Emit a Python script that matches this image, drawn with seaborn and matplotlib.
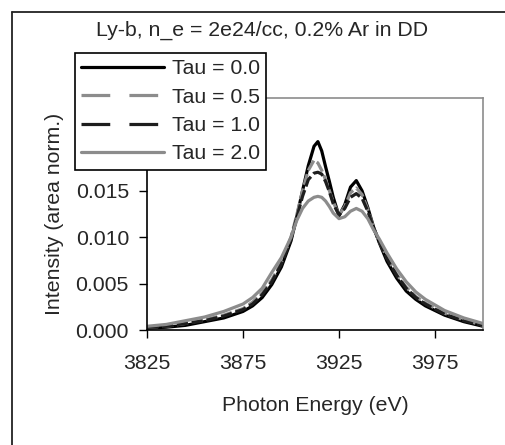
import matplotlib
matplotlib.use("Agg")
import matplotlib.pyplot as plt
from matplotlib.lines import Line2D
import seaborn as sns
import pandas as pd

# photon energy grid (eV) and normalised intensities
energy = [3825, 3835, 3845, 3855, 3865, 3875, 3880, 3885, 3890, 3895, 3900,
          3903, 3906, 3909, 3912, 3914, 3916, 3918, 3920, 3922, 3925, 3928,
          3931, 3934, 3937, 3940, 3943, 3946, 3950, 3955, 3960, 3965, 3970,
          3980, 3990, 4000]

tau_00 = [0.0002, 0.0003, 0.0005, 0.0009, 0.0013, 0.0020, 0.0026, 0.0035, 0.0049,
          0.0068, 0.0096, 0.0122, 0.0150, 0.0177, 0.0198, 0.0203, 0.0193, 0.0176,
          0.0160, 0.0143, 0.0123, 0.0135, 0.0154, 0.0161, 0.0150, 0.0132, 0.0111,
          0.0094, 0.0074, 0.0056, 0.0042, 0.0033, 0.0026, 0.0016, 0.0009, 0.0004]
tau_05 = [0.0003, 0.0004, 0.0007, 0.0011, 0.0016, 0.0023, 0.0030, 0.0040, 0.0054,
          0.0073, 0.0100, 0.0124, 0.0150, 0.0172, 0.0183, 0.0180, 0.0172, 0.0162,
          0.0150, 0.0138, 0.0124, 0.0133, 0.0148, 0.0153, 0.0146, 0.0130, 0.0110,
          0.0095, 0.0078, 0.0060, 0.0046, 0.0036, 0.0029, 0.0018, 0.0011, 0.0005]
tau_10 = [0.0003, 0.0004, 0.0007, 0.0010, 0.0015, 0.0022, 0.0028, 0.0038, 0.0052,
          0.0071, 0.0098, 0.0121, 0.0144, 0.0162, 0.0169, 0.0170, 0.0168, 0.0160,
          0.0149, 0.0136, 0.0124, 0.0131, 0.0143, 0.0147, 0.0142, 0.0128, 0.0110,
          0.0095, 0.0077, 0.0059, 0.0045, 0.0035, 0.0028, 0.0017, 0.0010, 0.0005]
tau_20 = [0.0004, 0.0006, 0.0010, 0.0014, 0.0020, 0.0028, 0.0035, 0.0045, 0.0062,
          0.0078, 0.0100, 0.0118, 0.0131, 0.0139, 0.0143, 0.0144, 0.0143, 0.0139,
          0.0133, 0.0126, 0.0120, 0.0122, 0.0128, 0.0131, 0.0128, 0.0120, 0.0108,
          0.0098, 0.0083, 0.0066, 0.0052, 0.0041, 0.0033, 0.0021, 0.0013, 0.0007]

labels = ["Tau = 0.0", "Tau = 0.5", "Tau = 1.0", "Tau = 2.0"]
series = [tau_00, tau_05, tau_10, tau_20]
colors = ["#000000", "#8c8c8c", "#1e1e1e", "#8c8c8c"]
plot_dash = [None, (3.5, 1.2), (3.5, 1.2), None]
leg_dash = [None, (9, 6), (9, 6), None]

x_ticks = [3825, 3875, 3925, 3975]
y_ticks = [0.0, 0.005, 0.010, 0.015, 0.020, 0.025]

sns.set_theme(style="white")
plt.rcParams["font.family"] = ["Liberation Sans", "DejaVu Sans"]
fs = 15.3

fig = plt.figure(figsize=(5.06, 4.45), dpi=100)
ax = fig.add_axes([147 / 506, 1 - 330 / 445, 336 / 506, 232 / 445])

handles = []
for lab, vals, col, pd_, ld in zip(labels, series, colors, plot_dash, leg_dash):
    df = pd.DataFrame({"energy": energy, "intensity": vals})
    sns.lineplot(data=df, x="energy", y="intensity", ax=ax, color=col, lw=2.3)
    line = ax.get_lines()[-1]
    if pd_ is not None:
        line.set_dashes(pd_)
    h = Line2D([], [], color=col, lw=2.3)
    if ld is not None:
        h.set_dashes(ld)
    handles.append(h)

ax.set_xlim(3825, 4000)
ax.set_ylim(0, 0.025)
ax.set_xticks(x_ticks)
ax.set_yticks(y_ticks)
ax.set_xticklabels([str(t) for t in x_ticks], fontsize=fs)
ax.set_yticklabels(["%.3f" % t for t in y_ticks], fontsize=fs)
ax.tick_params(axis="both", direction="out", length=6, width=1, color="black",
               pad=7, bottom=True, left=True)
ax.tick_params(axis="x", pad=11)
ax.set_xlabel("Photon Energy (eV)", fontsize=fs, labelpad=17)
ax.set_ylabel("Intensity (area norm.)", fontsize=fs, labelpad=8)

for side in ["left", "bottom"]:
    ax.spines[side].set_color("black")
    ax.spines[side].set_linewidth(1.2)
for side in ["top", "right"]:
    ax.spines[side].set_color("#8c8c8c")
    ax.spines[side].set_linewidth(1.2)

fig.text(262 / 506, 1 - 30 / 445, "Ly-b, n_e = 2e24/cc, 0.2% Ar in DD",
         ha="center", va="center", fontsize=fs)

leg = fig.legend(handles, labels, loc="upper left",
                 bbox_to_anchor=(75 / 506, 1 - 53 / 445), borderaxespad=0,
                 fontsize=fs, handlelength=3.9, handletextpad=0.35,
                 borderpad=0.3, labelspacing=0.44, frameon=True, fancybox=False,
                 framealpha=1, facecolor="white", edgecolor="black")
leg.get_frame().set_linewidth(1.2)

# outer chart border (only left and top edges fall inside the picture)
bx, by = 12 / 506, 1 - 12 / 445
fig.add_artist(Line2D([bx, bx], [0, by], transform=fig.transFigure,
                      color="#222222", lw=1.3))
fig.add_artist(Line2D([bx, 1], [by, by], transform=fig.transFigure,
                      color="#222222", lw=1.3))

fig.savefig("out.png", dpi=100)
